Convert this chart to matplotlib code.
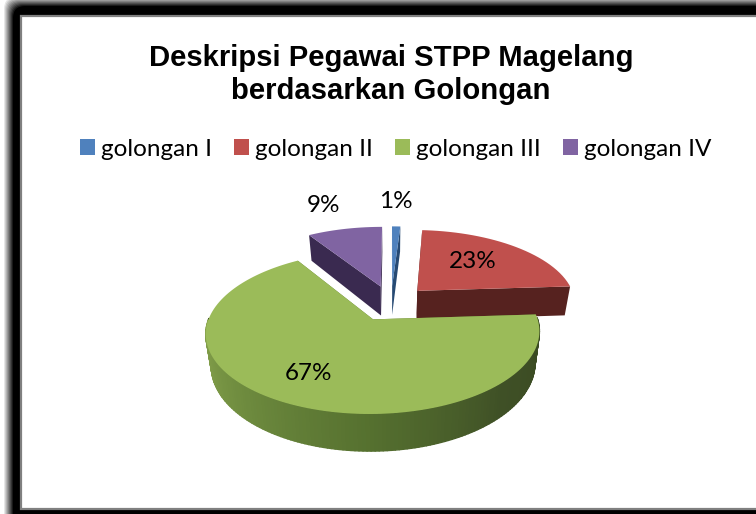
# -*- coding: utf-8 -*-
import numpy as np
import matplotlib
matplotlib.use('Agg')
import matplotlib.pyplot as plt
from matplotlib.collections import PolyCollection
from matplotlib.colors import LinearSegmentedColormap
from matplotlib.patches import FancyBboxPatch, Rectangle
from matplotlib.path import Path
from matplotlib.transforms import Affine2D, Transform

title = "Deskripsi Pegawai STPP Magelang\nberdasarkan Golongan"
categories = ["golongan I", "golongan II", "golongan III", "golongan IV"]
values = [1, 23, 67, 9]
colors = ["#4f81bd", "#c0504d", "#9bbb59", "#8064a2"]
side_colors = ["#274a73", "#56221f", "#5e7a33", "#3a2a50"]
label_pos = [(396, 202), (473, 262), (308, 374), (323, 206)]

explode = 0.24
# camera for the tilted pie
cx, cy, ax_x, ax_y, k = 391, 303, 159, 73.9, 0.158
depth, shrink = 30, 0.97


def project(xy, z=0):
    xy = np.asarray(xy, float)
    w = 1 + k * xy[:, 1]
    s = 1 - (1 - shrink) * z
    return np.column_stack([cx + ax_x * s * xy[:, 0] / w,
                            cy - ax_y * xy[:, 1] / w + depth * z / w])


class PieProjection(Transform):
    input_dims = 2
    output_dims = 2

    def transform_non_affine(self, values):
        return project(values)

    def transform_path_non_affine(self, path):
        # flatten first, so the outline stays on the true arc
        poly = path.transformed(Affine2D().scale(500)).to_polygons()[0] / 500
        return Path(project(poly))


fig = plt.figure(figsize=(7.56, 5.14), dpi=100)
ax = fig.add_axes([0, 0, 1, 1])

wedges, _ = ax.pie(values, explode=[explode] * 4, colors=colors, startangle=90,
                   counterclock=False, wedgeprops={"linewidth": 0})
ax.set_aspect('auto')
ax.set_xlim(0, 756)
ax.set_ylim(514, 0)
ax.axis('off')

# frame with the blurred dark border
n = 10
for i in range(n):
    g = 1 - (i + 1) / n
    ax.add_patch(FancyBboxPatch((4 + i + 12, -3 + i + 12), 800, 560,
                                boxstyle="round,pad=12,rounding_size=12",
                                fc=str(g), ec='none', zorder=0.1 + i * 0.01))
ax.add_patch(Rectangle((21, 16), 800, 493, fc='white', ec='#808080', lw=1.6, zorder=0.5))

proj = PieProjection() + ax.transData
rim_cmap = LinearSegmentedColormap.from_list("rim", ["#8ba64f", "#6f8c3f", "#55702f", "#3f5026", "#3a4a22"])

order = [0, 3, 1, 2]
for n_z, i in enumerate(order):
    w = wedges[i]
    base = 1 + n_z
    w.set_transform(proj)
    w.set_zorder(base + 0.3)
    c = np.array(w.center)
    t = np.radians(np.linspace(w.theta1, w.theta2, 200))
    arc = c + np.column_stack([np.cos(t), np.sin(t)])
    top = project(arc)
    bot = project(arc, 1)
    # only the part of the rim that faces the viewer
    keep = [j for j in range(len(t) - 1) if np.sin(t[j]) < 0.02]
    if keep:
        quads = [[top[j], top[j + 1], bot[j + 1], bot[j]] for j in keep]
        # lighter on the left, dark to the right
        front = np.clip((np.degrees(t[keep]) - 180) % 360 / 180, 0, 1)
        rim_col = rim_cmap(front)
        rim = PolyCollection(quads, facecolors=rim_col, edgecolors=rim_col, linewidths=1, zorder=base)
        ax.add_collection(rim)
    # the two cut faces
    for end in (arc[0], arc[-1]):
        pts = np.array([c, end])
        a = project(pts)
        b = project(pts, 1)
        ax.fill([a[0, 0], a[1, 0], b[1, 0], b[0, 0]], [a[0, 1], a[1, 1], b[1, 1], b[0, 1]],
                color=side_colors[i], lw=0, zorder=base + 0.1)

for v, (x, y) in zip(values, label_pos):
    ax.text(x, y, "%d%%" % v, ha='center', va='center', fontsize=17.5, family='Lato',
            color='black', zorder=10)

ax.text(391, 74.5, title, ha='center', va='center', fontsize=21.1, family='Liberation Sans',
        fontweight='bold', linespacing=1.22, zorder=10)

leg = ax.legend(wedges, categories, ncol=4, loc='center', bbox_to_anchor=(395.5 / 756, 1 - 149 / 514),
                frameon=False, prop={'family': 'Lato', 'size': 17.5}, handlelength=0.62, handleheight=0.62,
                handletextpad=0.25, columnspacing=0.9, borderpad=0, borderaxespad=0)
leg.set_zorder(10)

fig.savefig("out.png", dpi=100)
